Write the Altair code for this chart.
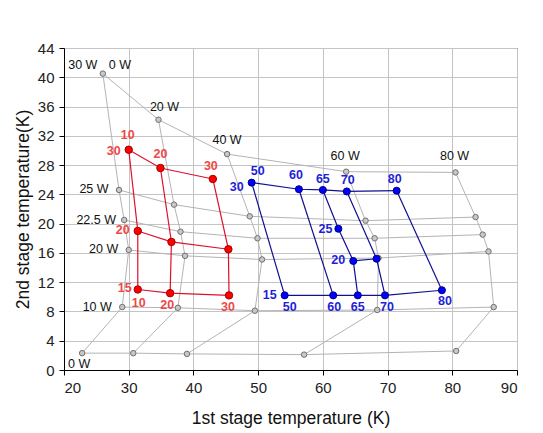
import altair as alt
import pandas as pd

# ---------------- data ----------------
# Gray load map: curves of constant 1st-stage load (W) x 2nd-stage load (W)
map_q1 = [0, 20, 40, 60, 80]
map_q2 = [30, 25, 22.5, 20, 10, 0]
map_t1 = [
    [26.0, 28.5, 29.3, 30.0, 29.0, 22.8],
    [34.6, 37.0, 38.0, 38.7, 37.6, 30.7],
    [45.2, 48.7, 49.9, 50.6, 49.5, 39.0],
    [63.6, 66.6, 68.0, 68.6, 68.4, 57.1],
    [80.5, 83.6, 84.7, 85.6, 86.4, 80.6],
]
map_t2 = [
    [40.5, 24.6, 20.5, 16.4, 8.6, 2.3],
    [34.2, 22.6, 18.9, 15.6, 8.5, 2.3],
    [29.5, 21.0, 18.0, 15.1, 8.1, 2.2],
    [27.1, 20.4, 18.0, 15.3, 8.2, 2.1],
    [27.0, 20.9, 18.5, 16.2, 8.6, 2.6],
]

# Red test grid
red_h1 = [10, 20, 30]
red_h2 = [30, 20, 15]
red_t1 = [[30.0, 31.4, 31.4], [34.9, 36.6, 36.4], [43.0, 45.4, 45.5]]
red_t2 = [[30.1, 19.0, 11.0], [27.6, 17.5, 10.5], [26.1, 16.5, 10.2]]

# Blue test points
blue_h1 = [50, 50, 60, 60, 65, 65, 65, 65, 70, 70, 70, 80, 80]
blue_h2 = [30, 15, 30, 15, 30, 25, 20, 15, 30, 20, 15, 30, 15]
blue_t1 = [49.0, 54.1, 56.3, 61.6, 60.0, 62.4, 64.7, 65.4, 63.7, 68.3, 69.6, 71.4, 78.4]
blue_t2 = [25.6, 10.2, 24.7, 10.2, 24.6, 19.3, 14.9, 10.2, 24.4, 15.2, 10.2, 24.5, 10.9]

# Labels: (text, h1, h2) anchor point, and pixel offsets of text centre
map_labels = [
    ("30 W", 0, 30, -20, -9), ("0 W", 0, 30, 17, -9),
    ("20 W", 20, 30, 6, -13), ("40 W", 40, 30, 0, -14),
    ("60 W", 60, 30, -1, -16), ("80 W", 80, 30, -1, -16),
    ("25 W", 0, 25, -25, -1), ("22.5 W", 0, 22.5, -28, 0),
    ("20 W", 0, 20, -25, -1), ("10 W", 0, 10, -25, 0),
    ("0 W", 0, 0, -3, 11),
]
red_labels = [
    ("10", 10, 30, -1, -15), ("30", 10, 30, -15, 1),
    ("20", 20, 30, 0, -14), ("30", 30, 30, -2, -13),
    ("20", 10, 20, -15, -1), ("15", 10, 15, -13, -2),
    ("10", 10, 15, 1, 13), ("20", 20, 15, -3, 12), ("30", 30, 15, -1, 12),
]
blue_labels = [
    ("50", 50, 30, 6, -12), ("30", 50, 30, -15, 4),
    ("60", 60, 30, -3, -14), ("65", 65, 30, 0, -11),
    ("70", 70, 30, 1, -11), ("80", 80, 30, -2, -12),
    ("25", 65, 25, -13, 0), ("20", 65, 20, -15, -1),
    ("15", 50, 15, -15, 0),
    ("50", 50, 15, 5, 12), ("60", 60, 15, 1, 12), ("65", 65, 15, 0, 12),
    ("70", 70, 15, 2, 12), ("80", 80, 15, 3, 11),
]

# ---------------- tables ----------------
map_rows = []
for i, q1 in enumerate(map_q1):
    for j, q2 in enumerate(map_q2):
        map_rows.append({"h1": q1, "h2": q2, "T1": map_t1[i][j], "T2": map_t2[i][j]})
map_df = pd.DataFrame(map_rows)

red_rows = []
for i, h1 in enumerate(red_h1):
    for j, h2 in enumerate(red_h2):
        red_rows.append({"h1": h1, "h2": h2, "T1": red_t1[i][j], "T2": red_t2[i][j]})
red_df = pd.DataFrame(red_rows)

blue_df = pd.DataFrame({"h1": blue_h1, "h2": blue_h2, "T1": blue_t1, "T2": blue_t2})


def label_df(labels, pts):
    rows = []
    for text, h1, h2, dx, dy in labels:
        p = pts[(pts.h1 == h1) & (pts.h2 == h2)].iloc[0]
        rows.append({"text": text, "T1": p.T1, "T2": p.T2, "dx": dx, "dy": dy})
    return pd.DataFrame(rows)


map_lab = label_df(map_labels, map_df)
red_lab = label_df(red_labels, red_df)
blue_lab = label_df(blue_labels, blue_df)

FONT = "Liberation Sans"

x_enc = alt.X("T1:Q", scale=alt.Scale(domain=[20, 90], nice=False, zero=False),
              axis=alt.Axis(values=list(range(20, 91, 10)), title="1st stage temperature (K)",
                            titleY=53, titleBaseline="alphabetic"))
y_enc = alt.Y("T2:Q", scale=alt.Scale(domain=[0, 44], nice=False, zero=False),
              axis=alt.Axis(values=list(range(0, 45, 4)), title="2nd stage temperature(K)",
                            titleX=-41, titleY=161, titleBaseline="middle", titleAngle=-90))


def grid_lines(df, color, width):
    a = alt.Chart(df).mark_line(color=color, strokeWidth=width).encode(
        x=x_enc, y=y_enc, detail="h1:N", order=alt.Order("h2:Q", sort="descending"))
    b = alt.Chart(df).mark_line(color=color, strokeWidth=width).encode(
        x=x_enc, y=y_enc, detail="h2:N", order=alt.Order("h1:Q"))
    return a + b


def points(df, fill, stroke, size):
    return alt.Chart(df).mark_circle(color=fill, opacity=1, stroke=stroke,
                                     strokeWidth=1, size=size).encode(x=x_enc, y=y_enc)


def labels(df, color, weight, size):
    return alt.Chart(df).mark_text(font=FONT, fontSize=size, fontWeight=weight,
                                   color=color, align="center", baseline="middle",
                                   dx=alt.ExprRef("datum.dx"),
                                   dy=alt.ExprRef("datum.dy")).encode(
        x=x_enc, y=y_enc, text="text:N")


chart = alt.layer(
    grid_lines(map_df, "#b4b4b4", 1),
    points(map_df, "#c8c8c8", "#707070", 30),
    grid_lines(red_df, "#dd1030", 1.2),
    grid_lines(blue_df, "#101090", 1.2),
    points(red_df, "#ff0000", "#a00000", 55),
    points(blue_df, "#0000ff", "#000080", 50),
    labels(map_lab, "#111111", "normal", 12.5),
    labels(red_lab, "#ee4848", "bold", 12.5),
    labels(blue_lab, "#1f1fd8", "bold", 12.5),
).properties(
    width=453, height=322,
    autosize=alt.AutoSizeParams(type="none"),
    padding={"left": 56, "top": 40, "right": 18, "bottom": 60},
).configure_view(
    stroke="#000000", strokeWidth=1
).configure_axis(
    grid=True, gridColor="#c4c4c4", gridWidth=1,
    domainColor="#000000", tickColor="#000000", tickSize=5,
    labelFont=FONT, labelFontSize=15, labelColor="#222222",
    titleFont=FONT, titleFontSize=17.5, titleFontWeight="normal", titleColor="#111111",
).configure_axisX(labelPadding=5).configure_axisY(labelPadding=5)

chart.save("out.html", embed_options={"renderer": "svg", "actions": False})
